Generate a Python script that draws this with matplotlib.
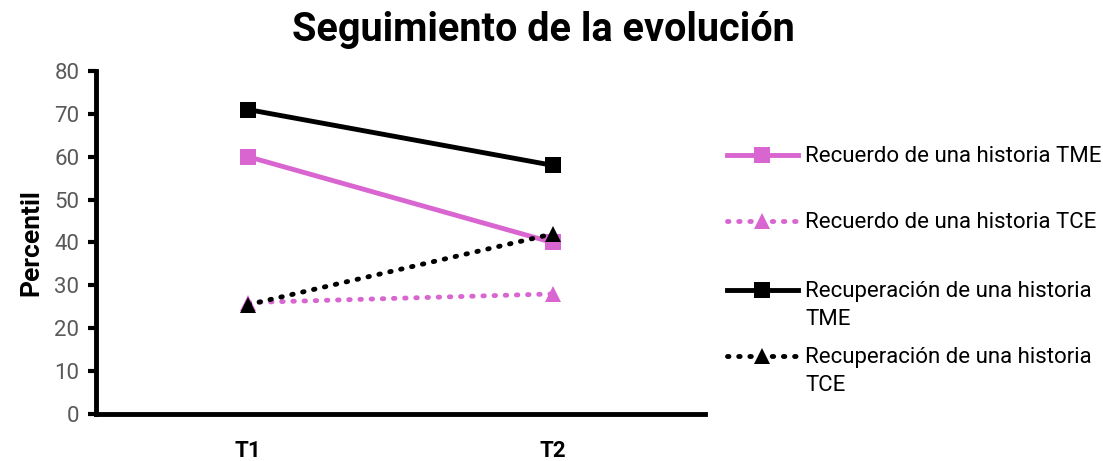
import matplotlib
matplotlib.use("Agg")
import matplotlib.pyplot as plt
from matplotlib.lines import Line2D

categories = ["T1", "T2"]
recuerdo_tme = [60, 40]
recuerdo_tce = [26, 28]
recuperacion_tme = [71, 58]
recuperacion_tce = [25.5, 42]
labels = ["Recuerdo de una historia TME",
          "Recuerdo de una historia TCE",
          "Recuperación de una historia\nTME",
          "Recuperación de una historia\nTCE"]
yticks = [0, 10, 20, 30, 40, 50, 60, 70, 80]

PINK = "#D966D0"
BLACK = "#000000"
FONT = "Roboto"

fig = plt.figure(figsize=(11.03, 4.61), dpi=100)
ax = fig.add_axes([0.087, 0.102, 0.552, 0.744])

x = [0.5, 1.5]
DOT = (0, (0.3, 2.0))
styles = [
    dict(data=recuerdo_tme, color=PINK, ls="-", lw=3.5, marker="s", ms=11),
    dict(data=recuerdo_tce, color=PINK, ls=DOT, lw=3.5, marker="^", ms=11),
    dict(data=recuperacion_tme, color=BLACK, ls="-", lw=3.5, marker="s", ms=11),
    dict(data=recuperacion_tce, color=BLACK, ls=DOT, lw=3.5, marker="^", ms=11),
]
for s in styles:
    ax.plot(x, s["data"], color=s["color"], linestyle=s["ls"], lw=s["lw"],
            marker=s["marker"], ms=s["ms"], markeredgewidth=0,
            dash_capstyle="round", solid_capstyle="butt")

ax.set_xlim(0, 2)
ax.set_ylim(0, 80)
ax.set_xticks(x)
ax.set_xticklabels(categories, fontsize=16, fontweight="bold", family=FONT)
ax.set_yticks(yticks)
ax.set_yticklabels([str(v) for v in yticks], fontsize=16, color="#595959", family=FONT)
ax.tick_params(axis="x", length=0, pad=19)
ax.tick_params(axis="y", length=6, width=3, direction="out", pad=6)
for sp in ["top", "right"]:
    ax.spines[sp].set_visible(False)
for sp in ["left", "bottom"]:
    ax.spines[sp].set_linewidth(3.5)
ax.set_ylabel("Percentil", fontsize=19, fontweight="bold", family=FONT, labelpad=8)

fig.text(0.493, 0.935, "Seguimiento de la evolución", ha="center", va="center",
         fontsize=28.5, fontweight="bold", family=FONT)

# legend
W, H = 1103, 461
rows = [155, 221, 290, 356]
for s, lab, yy in zip(styles, labels, rows):
    yf = 1 - yy / H
    fig.add_artist(Line2D([727 / W, 798 / W], [yf, yf], color=s["color"],
                          linestyle=s["ls"], lw=s["lw"], dash_capstyle="round",
                          transform=fig.transFigure))
    fig.add_artist(Line2D([762 / W], [yf], color=s["color"], marker=s["marker"],
                          ms=s["ms"], markeredgewidth=0, linestyle="none",
                          transform=fig.transFigure))
    fig.text(805 / W, yf + 0.02, lab, ha="left", va="top", fontsize=16,
             family=FONT, linespacing=1.42)

fig.savefig("out.png", dpi=100)
